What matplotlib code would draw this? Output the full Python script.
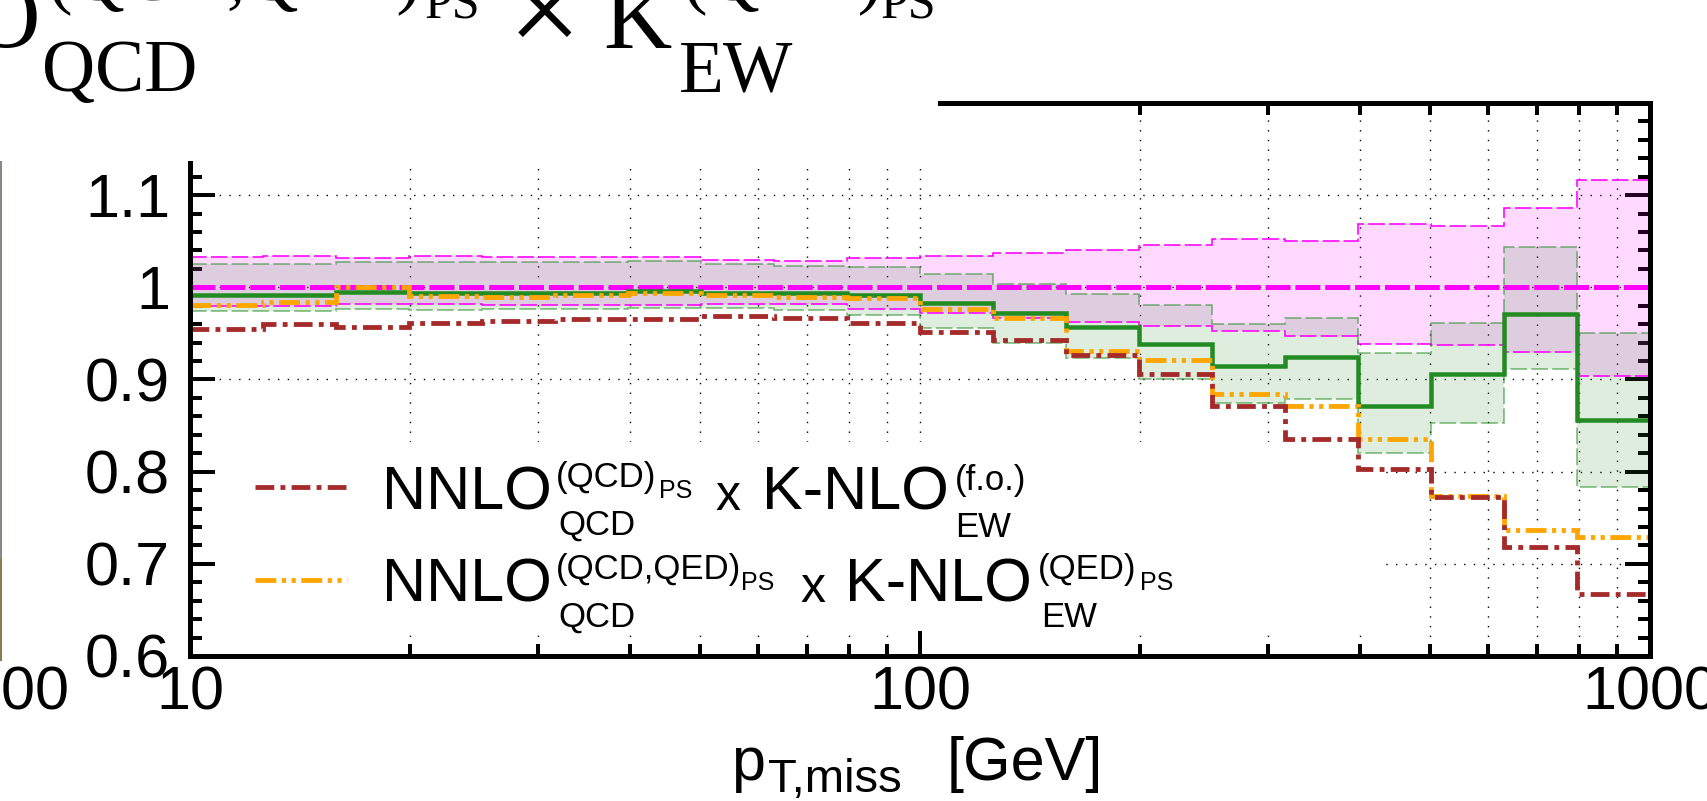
import matplotlib
matplotlib.use("Agg")
import matplotlib.pyplot as plt
from matplotlib.lines import Line2D
from matplotlib.patches import Rectangle
from matplotlib.ticker import (FixedLocator, FixedFormatter, MultipleLocator,
                               LogLocator, NullFormatter)

plt.rcParams['font.family'] = ['Liberation Sans', 'DejaVu Sans']
plt.rcParams['lines.scale_dashes'] = False

W, H, DPI = 1707, 801, 100

# p_T,miss binning [GeV]
pt_edges = [10.0, 12.59, 15.85, 19.95, 25.12, 31.62, 39.81, 50.12, 63.10, 79.43,
            100.0, 125.9, 158.5, 199.5, 251.2, 316.2, 398.1, 501.2, 631.0, 794.3, 1000.0]

# reference prediction (normalisation) with its scale band
ref_central = [1.0, 1.0, 1.0, 1.0, 1.0, 1.0, 1.0, 1.0, 1.0, 1.0,
               1.0, 1.0, 1.0, 1.0, 1.0, 1.0, 1.0, 1.0, 1.0, 1.0]
ref_up = [1.033, 1.034, 1.032, 1.034, 1.033, 1.033, 1.033, 1.030, 1.029, 1.032,
          1.034, 1.037, 1.041, 1.046, 1.052, 1.050, 1.069, 1.067, 1.086, 1.116]
ref_down = [0.980, 0.980, 0.982, 0.982, 0.981, 0.981, 0.981, 0.982, 0.982, 0.976,
            0.972, 0.967, 0.962, 0.958, 0.953, 0.947, 0.938, 0.937, 0.930, 0.904]

# combined QCD+EW prediction with its scale band
comb_central = [0.992, 0.992, 0.995, 0.9935, 0.9935, 0.9935, 0.996, 0.9935, 0.9935, 0.992,
                0.9835, 0.972, 0.9565, 0.939, 0.915, 0.924, 0.871, 0.906, 0.971, 0.856]
comb_up = [1.025, 1.025, 1.027, 1.028, 1.027, 1.027, 1.029, 1.025, 1.023, 1.022,
           1.015, 1.004, 0.993, 0.981, 0.960, 0.967, 0.929, 0.961, 1.044, 0.950]
comb_down = [0.974, 0.974, 0.976, 0.975, 0.976, 0.976, 0.978, 0.978, 0.975, 0.970,
             0.956, 0.940, 0.923, 0.901, 0.874, 0.879, 0.820, 0.853, 0.911, 0.783]

# NNLO_QCD^(QCD,QED)_PS x K-NLO_EW^(QED)_PS
qed_ps = [0.981, 0.984, 1.000, 0.991, 0.989, 0.992, 0.9935, 0.992, 0.9895, 0.988,
          0.976, 0.967, 0.931, 0.921, 0.884, 0.871, 0.835, 0.774, 0.737, 0.729]
# NNLO_QCD^(QCD)_PS x K-NLO_EW^(f.o.)
fixed_order = [0.9545, 0.960, 0.957, 0.961, 0.963, 0.966, 0.966, 0.9686, 0.967, 0.961,
               0.951, 0.943, 0.927, 0.906, 0.871, 0.835, 0.803, 0.772, 0.718, 0.667]

ytick_vals = [0.6, 0.7, 0.8, 0.9, 1.0, 1.1, 1.2]
ytick_labels = ['0.6', '0.7', '0.8', '0.9', '1', '1.1', '1.2']
xtick_vals = [10, 100, 1000]
xtick_labels = ['10', '100', '1000']

MAGENTA = '#ff00ff'
GREEN = '#228b22'
ORANGE = '#ffa500'
BROWN = '#a52a2a'

BROWN_DASH = (0, (13.5, 4.5, 3.5, 4.5))
ORANGE_DASH = (0, (15, 4, 3, 4, 3, 4))


def X(px):
    return px / W


def Y(py):
    return 1 - py / H


def PT(px):
    return px * 72 / DPI


fig = plt.figure(figsize=(W / DPI, H / DPI), dpi=DPI)
ax = fig.add_axes([X(190), Y(656), (1650 - 190) / W, (656 - 103) / H])
ax.set_xscale('log')
ax.set_xlim(10, 1000)
ax.set_ylim(0.6, 1.2)

# grid below everything
ax.set_axisbelow(True)
grid_kw = dict(color='black', lw=PT(1.4), ls=(0, (1, 6)))
ax.xaxis.grid(True, which='both', **grid_kw)
ax.yaxis.grid(True, which='major', **grid_kw)

# opaque key area
ax.add_patch(Rectangle(((216 - 190) / 1460, (656 - 630) / 553),
                       (1385 - 216) / 1460, (630 - 442) / 553,
                       transform=ax.transAxes, facecolor='white',
                       edgecolor='none', zorder=0.7))

# uncertainty bands
ax.stairs(ref_up, pt_edges, baseline=ref_down, fill=True, color=MAGENTA,
          alpha=0.15, lw=0, zorder=1.0)
ax.stairs(comb_up, pt_edges, baseline=comb_down, fill=True, color=GREEN,
          alpha=0.15, lw=0, zorder=1.05)
for vals in (ref_up, ref_down):
    ax.stairs(vals, pt_edges, baseline=None, color=MAGENTA, lw=PT(1.6),
              ls=(0, (12, 3)), zorder=1.2)
for vals in (comb_up, comb_down):
    ax.stairs(vals, pt_edges, baseline=None, color=GREEN, alpha=0.6, lw=PT(1.6),
              ls=(0, (12, 3)), zorder=1.2)

# central predictions
ax.stairs(ref_central, pt_edges, baseline=None, color=MAGENTA, lw=PT(5),
          ls=(0, (18, 3.5)), zorder=2.0)
ax.stairs(comb_central, pt_edges, baseline=None, color=GREEN, lw=PT(4.5),
          zorder=2.1)
ax.stairs(qed_ps, pt_edges, baseline=None, color=ORANGE, lw=PT(4.8),
          ls=ORANGE_DASH, zorder=2.2)
ax.stairs(fixed_order, pt_edges, baseline=None, color=BROWN, lw=PT(4.8),
          ls=BROWN_DASH, zorder=2.3)

# axes styling
ax.yaxis.set_major_locator(FixedLocator(ytick_vals))
ax.yaxis.set_major_formatter(FixedFormatter(ytick_labels))
ax.yaxis.set_minor_locator(MultipleLocator(0.02))
ax.xaxis.set_major_locator(FixedLocator(xtick_vals))
ax.xaxis.set_major_formatter(FixedFormatter(xtick_labels))
ax.xaxis.set_minor_locator(LogLocator(base=10, subs=(2, 3, 4, 5, 6, 7, 8, 9)))
ax.xaxis.set_minor_formatter(NullFormatter())
ax.tick_params(axis='both', which='both', direction='in', top=True, right=True,
               width=PT(4), color='black')
ax.tick_params(which='major', length=PT(25))
ax.tick_params(which='minor', length=PT(12))
ax.tick_params(axis='y', pad=PT(20), labelsize=44)
ax.tick_params(axis='x', pad=PT(9), labelsize=44)
for s in ax.spines.values():
    s.set_linewidth(PT(5))


def put(x, y, s, size, family='Liberation Sans', ha='left', z=3):
    fig.text(X(x), Y(y), s, fontsize=size, family=family, ha=ha,
             va='baseline', zorder=z)


# key
fig.add_artist(Line2D([X(255), X(347)], [Y(487), Y(487)], color=BROWN,
                      lw=PT(4.8), ls=BROWN_DASH))
fig.add_artist(Line2D([X(255), X(347)], [Y(580), Y(580)], color=ORANGE,
                      lw=PT(4.8), ls=ORANGE_DASH))
L_MAIN, L_SUB, L_SS = 44, 25, 18
put(382, 510, 'NNLO', L_MAIN)
put(556, 487, '(QCD)', L_SUB)
put(659, 498, 'PS', L_SS)
put(558, 535, 'QCD', L_SUB)
put(715, 510, 'x', 36)
put(762, 510, 'K-NLO', L_MAIN)
put(955, 490, '(f.o.)', L_SUB)
put(955, 537, 'EW', L_SUB)

put(382, 602, 'NNLO', L_MAIN)
put(556, 579, '(QCD,QED)', L_SUB)
put(741, 590, 'PS', L_SS)
put(558, 627, 'QCD', L_SUB)
put(800, 602, 'x', 36)
put(845, 602, 'K-NLO', L_MAIN)
put(1038, 579, '(QED)', L_SUB)
put(1140, 590, 'PS', L_SS)
put(1041, 627, 'EW', L_SUB)

# x-axis title
put(731, 780, 'p', 44)
put(768, 792, 'T,miss', 34)
put(947, 780, '[GeV]', 44)

# neighbouring panel edge and its last tick label
fig.add_artist(Line2D([X(1), X(1)], [Y(161), Y(560)], color='#7f8c7f', lw=PT(2)))
fig.add_artist(Line2D([X(1), X(1)], [Y(560), Y(660)], color='#8a7a50', lw=PT(2)))
fig.text(X(1), Y(666), '1000', fontsize=44, ha='center', va='top')

# heading area
fig.add_artist(Rectangle((0, Y(161)), X(938), 161 / H, transform=fig.transFigure,
                         facecolor='white', edgecolor='none', zorder=5))
SERIF = 'Liberation Serif'
T_MAIN, T_SUB, T_SS = 68, 53, 36
put(41, 47, 'NNLO', T_MAIN, SERIF, ha='right', z=6)
put(48, 0, '(QCD,QED)', T_SUB, SERIF, z=6)
put(425, 18, 'PS', T_SS, SERIF, z=6)
put(42, 91, 'QCD', T_SUB, SERIF, z=6)
put(508, 54, '\u00d7', 94, SERIF, z=6)
put(603, 48, 'K', T_MAIN, SERIF, z=6)
put(679, 91, 'EW', T_SUB, SERIF, z=6)
put(683, 0, '(QED)', T_SUB, SERIF, z=6)
put(881, 18, 'PS', T_SS, SERIF, z=6)

fig.savefig('out.png', dpi=DPI)
